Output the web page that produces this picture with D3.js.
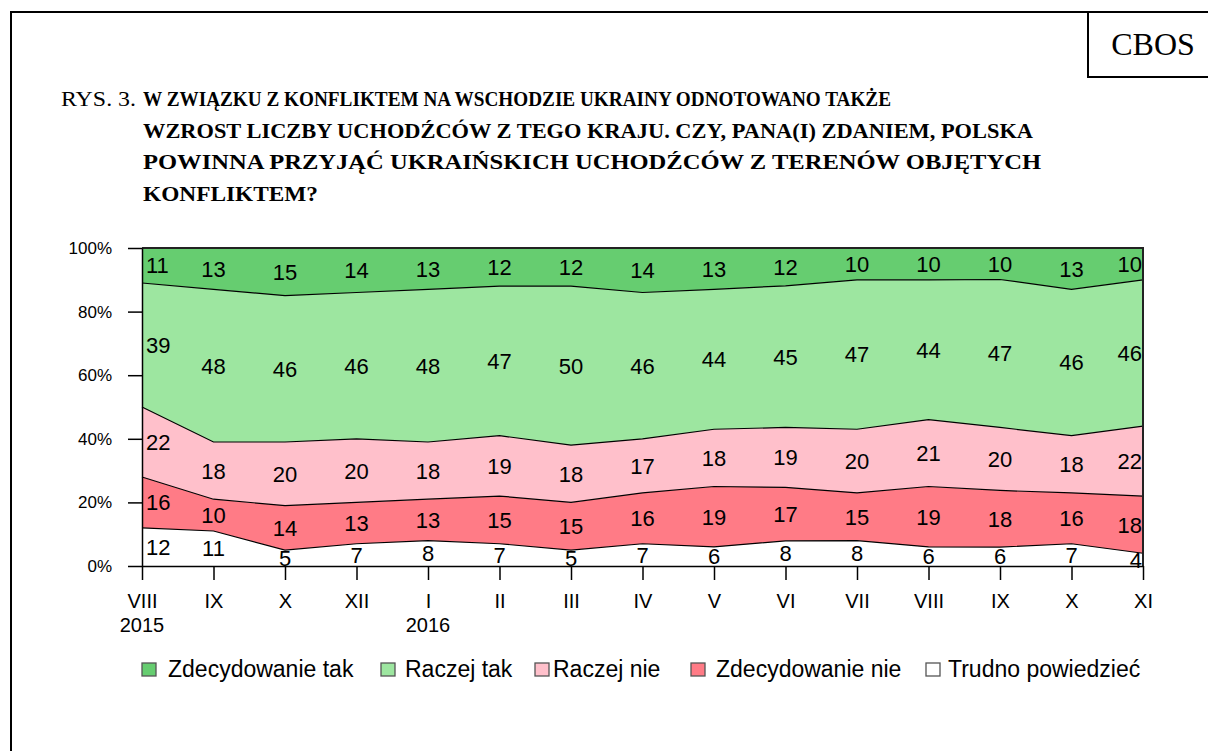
<!DOCTYPE html>
<html>
<head>
<meta charset="utf-8">
<script src="https://cdn.jsdelivr.net/npm/d3@7"></script>
<style>
  body { margin: 0; background: #fff; }
  svg { display: block; }
</style>
</head>
<body>
<svg id="chart"></svg>
<script>
// survey waves (month, year shown under first wave of each year)
const months = ["VIII", "IX", "X", "XII", "I", "II", "III", "IV", "V", "VI", "VII", "VIII", "IX", "X", "XI"];
const years = ["2015", "", "", "", "2016", "", "", "", "", "", "", "", "", "", ""];

// answers, bottom to top of the stack
const seriesNames = ["Trudno powiedzieć", "Zdecydowanie nie", "Raczej nie", "Raczej tak", "Zdecydowanie tak"];
const trudno = [12, 11, 5, 7, 8, 7, 5, 7, 6, 8, 8, 6, 6, 7, 4];
const zdecNie = [16, 10, 14, 13, 13, 15, 15, 16, 19, 17, 15, 19, 18, 16, 18];
const raczejNie = [22, 18, 20, 20, 18, 19, 18, 17, 18, 19, 20, 21, 20, 18, 22];
const raczejTak = [39, 48, 46, 46, 48, 47, 50, 46, 44, 45, 47, 44, 47, 46, 46];
const zdecTak = [11, 13, 15, 14, 13, 12, 12, 14, 13, 12, 10, 10, 10, 13, 10];
const yTicks = [0, 0.2, 0.4, 0.6, 0.8, 1];

const colors = ["#ffffff", "#ff7b86", "#ffc0cb", "#9de6a0", "#66cd70"];
const legendOrder = ["Zdecydowanie tak", "Raczej tak", "Raczej nie", "Zdecydowanie nie", "Trudno powiedzieć"];

const width = 1208;
const height = 751;
const plotLeft = 142, plotRight = 1143, plotTop = 248, plotBottom = 566;

const rows = months.map((m, i) => ({
  i,
  "Trudno powiedzieć": trudno[i],
  "Zdecydowanie nie": zdecNie[i],
  "Raczej nie": raczejNie[i],
  "Raczej tak": raczejTak[i],
  "Zdecydowanie tak": zdecTak[i],
}));

// 100% stacked, like the original
const stacked = d3.stack().keys(seriesNames).offset(d3.stackOffsetExpand)(rows);

const x = d3.scaleLinear([0, months.length - 1], [plotLeft, plotRight]);
const y = d3.scaleLinear([0, 1], [plotBottom, plotTop]);
const color = d3.scaleOrdinal(seriesNames, colors);

const svg = d3.select("#chart").attr("width", width).attr("height", height);

// page frame + CBOS box
svg.append("path")
  .attr("d", `M11,${height} V12 H${width}`)
  .attr("fill", "none").attr("stroke", "#000").attr("stroke-width", 2);
svg.append("path")
  .attr("d", `M1088,12 V77 H${width}`)
  .attr("fill", "none").attr("stroke", "#000").attr("stroke-width", 2);
svg.append("text")
  .attr("x", 1153).attr("y", 55)
  .attr("text-anchor", "middle")
  .style("font-family", "'Liberation Serif', 'Times New Roman', serif")
  .style("font-size", "32px")
  .text("CBOS");

// title
const serif = "'Liberation Serif', 'Times New Roman', serif";
svg.append("text")
  .attr("x", 61).attr("y", 106)
  .attr("textLength", 75)
  .attr("lengthAdjust", "spacingAndGlyphs")
  .style("font-family", serif).style("font-size", "21px")
  .text("RYS. 3.");
const titleLines = [
  ["W ZWIĄZKU Z KONFLIKTEM NA WSCHODZIE UKRAINY ODNOTOWANO TAKŻE", 748],
  ["WZROST LICZBY UCHODŹCÓW Z TEGO KRAJU. CZY, PANA(I) ZDANIEM, POLSKA", 890],
  ["POWINNA PRZYJĄĆ UKRAIŃSKICH UCHODŹCÓW Z TERENÓW OBJĘTYCH", 898],
  ["KONFLIKTEM?", 175],
];
svg.append("g")
  .selectAll("text")
  .data(titleLines)
  .join("text")
  .attr("x", 143)
  .attr("y", (d, i) => 106 + i * 31.6)
  .attr("textLength", (d) => d[1])
  .attr("lengthAdjust", "spacingAndGlyphs")
  .style("font-family", serif)
  .style("font-weight", "bold")
  .style("font-size", "22px")
  .text((d) => d[0]);

// areas
const area = d3.area()
  .x((d) => x(d.data.i))
  .y0((d) => y(d[0]))
  .y1((d) => y(d[1]));

const plot = svg.append("g");
plot.selectAll("path.band")
  .data(stacked)
  .join("path")
  .attr("class", "band")
  .attr("fill", (d) => color(d.key))
  .attr("d", area);

// boundary lines between bands
const line = d3.line().x((d) => x(d.data.i)).y((d) => y(d[1]));
plot.selectAll("path.edge")
  .data(stacked.slice(0, -1))
  .join("path")
  .attr("class", "edge")
  .attr("fill", "none")
  .attr("stroke", "#000")
  .attr("stroke-width", 1.2)
  .attr("d", line);

// plot frame (top / right)
svg.append("path")
  .attr("d", `M${plotLeft},${plotTop} H${plotRight} V${plotBottom}`)
  .attr("fill", "none").attr("stroke", "#222").attr("stroke-width", 2);

// value labels in the middle of each band
const n = months.length;
const labels = svg.append("g")
  .style("font-family", "'Liberation Sans', Arial, sans-serif")
  .style("font-size", "22px")
  .attr("fill", "#000");
stacked.forEach((s) => {
  const values = rows.map((r) => r[s.key]);
  labels.append("g")
    .selectAll("text")
    .data(s)
    .join("text")
    .attr("x", (d) => d.data.i === 0 ? x(0) + 4 : d.data.i === n - 1 ? x(n - 1) - 1 : x(d.data.i))
    .attr("y", (d) => y((d[0] + d[1]) / 2))
    .attr("dy", "0.36em")
    .attr("text-anchor", (d) => d.data.i === 0 ? "start" : d.data.i === n - 1 ? "end" : "middle")
    .text((d) => values[d.data.i]);
});

// y axis
svg.append("g")
  .attr("transform", `translate(${plotLeft},0)`)
  .call(d3.axisLeft(y).tickValues(yTicks).tickFormat(d3.format(".0%")).tickSize(14).tickSizeOuter(0).tickPadding(16))
  .call((g) => g.selectAll("line, path").attr("stroke", "#000").attr("stroke-width", 1.5))
  .call((g) => g.selectAll("text")
    .style("font-family", "'Liberation Sans', Arial, sans-serif")
    .style("font-size", "17px")
    .attr("fill", "#000"));

// x axis
svg.append("g")
  .attr("transform", `translate(0,${plotBottom})`)
  .call(d3.axisBottom(x).tickValues(d3.range(n)).tickFormat((i) => months[i]).tickSize(14).tickSizeOuter(0).tickPadding(14))
  .call((g) => g.selectAll("line, path").attr("stroke", "#000").attr("stroke-width", 1.5))
  .call((g) => g.selectAll("text")
    .style("font-family", "'Liberation Sans', Arial, sans-serif")
    .style("font-size", "20px")
    .attr("fill", "#000"));

svg.append("g")
  .selectAll("text")
  .data(years)
  .join("text")
  .attr("x", (d, i) => x(i))
  .attr("y", 632)
  .attr("text-anchor", "middle")
  .style("font-family", "'Liberation Sans', Arial, sans-serif")
  .style("font-size", "20px")
  .text((d) => d);

// legend
const legendSquareX = [142, 381, 535, 691, 926];
const legendTextX = [168, 405, 553, 716, 948];
const legend = svg.append("g")
  .selectAll("g")
  .data(legendOrder)
  .join("g");
legend.append("rect")
  .attr("x", (d, i) => legendSquareX[i])
  .attr("y", 663)
  .attr("width", 14)
  .attr("height", 13)
  .attr("fill", (d) => color(d))
  .attr("stroke", "#555")
  .attr("stroke-width", 1.3);
legend.append("text")
  .attr("x", (d, i) => legendTextX[i])
  .attr("y", 677)
  .style("font-family", "'Liberation Sans', Arial, sans-serif")
  .style("font-size", "23px")
  .text((d) => d);
</script>
</body>
</html>
